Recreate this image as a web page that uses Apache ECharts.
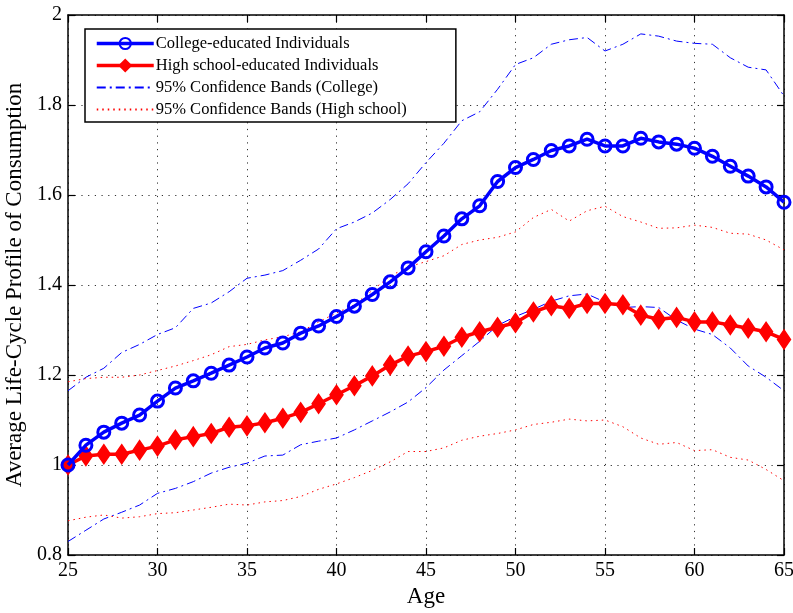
<!DOCTYPE html>
<html>
<head>
<meta charset="utf-8">
<script src="https://cdn.jsdelivr.net/npm/echarts@6/dist/echarts.min.js"></script>
<style>
  html, body { margin: 0; padding: 0; background: #fff; }
  #chart { width: 793px; height: 613px; }
</style>
</head>
<body>
<div id="chart"></div>
<script>
// ages 25..65
const ages = []
for (let a = 25; a <= 65; a++) ages.push(a)

const college = [
  1.000, 1.044, 1.073, 1.093, 1.111, 1.142, 1.171, 1.187, 1.204, 1.222,
  1.240, 1.260, 1.271, 1.293, 1.309, 1.330, 1.353, 1.379, 1.407, 1.438,
  1.474, 1.509, 1.547, 1.576, 1.630, 1.661, 1.679, 1.699, 1.709, 1.724,
  1.709, 1.709, 1.726, 1.718, 1.713, 1.704, 1.686, 1.664, 1.642, 1.618,
  1.584
]
const highSchool = [
  1.000, 1.020, 1.024, 1.024, 1.033, 1.042, 1.056, 1.063, 1.070, 1.084,
  1.087, 1.094, 1.104, 1.117, 1.136, 1.156, 1.176, 1.198, 1.222, 1.242,
  1.252, 1.264, 1.284, 1.296, 1.306, 1.316, 1.340, 1.354, 1.348, 1.359,
  1.359, 1.356, 1.333, 1.324, 1.328, 1.318, 1.318, 1.311, 1.304, 1.296,
  1.279
]
const collegeUpper = [
  1.165, 1.195, 1.215, 1.250, 1.268, 1.290, 1.305, 1.348, 1.360, 1.385,
  1.415, 1.422, 1.432, 1.455, 1.480, 1.525, 1.540, 1.560, 1.590, 1.625,
  1.672, 1.715, 1.765, 1.785, 1.835, 1.890, 1.905, 1.935, 1.945, 1.950,
  1.920, 1.935, 1.958, 1.953, 1.942, 1.937, 1.935, 1.905, 1.884, 1.878,
  1.820
]
const collegeLower = [
  0.830, 0.855, 0.880, 0.895, 0.911, 0.937, 0.948, 0.963, 0.982, 0.995,
  1.004, 1.020, 1.022, 1.045, 1.053, 1.060, 1.078, 1.098, 1.118, 1.140,
  1.172, 1.211, 1.243, 1.275, 1.310, 1.330, 1.346, 1.364, 1.376, 1.380,
  1.362, 1.350, 1.352, 1.350, 1.322, 1.302, 1.290, 1.260, 1.220, 1.195,
  1.165
]
const hsUpper = [
  1.185, 1.192, 1.195, 1.195, 1.200, 1.210, 1.220, 1.232, 1.245, 1.263,
  1.268, 1.278, 1.285, 1.296, 1.318, 1.338, 1.356, 1.388, 1.420, 1.440,
  1.452, 1.465, 1.490, 1.500, 1.506, 1.518, 1.550, 1.568, 1.542, 1.565,
  1.575, 1.552, 1.540, 1.526, 1.527, 1.533, 1.528, 1.515, 1.513, 1.500,
  1.478
]
const hsLower = [
  0.876, 0.884, 0.889, 0.882, 0.885, 0.892, 0.894, 0.900, 0.906, 0.913,
  0.911, 0.918, 0.921, 0.930, 0.946, 0.958, 0.972, 0.988, 1.007, 1.030,
  1.030, 1.038, 1.055, 1.064, 1.070, 1.078, 1.090, 1.095, 1.102, 1.098,
  1.100, 1.085, 1.060, 1.046, 1.050, 1.032, 1.034, 1.017, 1.011, 0.990,
  0.965
]

const seriesNames = [
  'College-educated Individuals',
  'High school-educated Individuals',
  '95% Confidence Bands (College)',
  '95% Confidence Bands (High school)'
]

const FONT = '"Liberation Serif", "DejaVu Serif", serif'
const BLUE = '#0000ff'
const RED = '#ff0000'

const pairs = vals => ages.map((a, i) => [a, vals[i]])

const chart = echarts.init(document.getElementById('chart'))

const boxAxisLine = { show: true, lineStyle: { color: '#000', width: 1.5 } }
const tick = { show: true, inside: true, length: 7, lineStyle: { color: '#000', width: 1.2 } }
const grid = { show: true, lineStyle: { color: '#333', width: 1, type: [1.2, 5.5] } }

chart.setOption({
  animation: false,
  textStyle: { fontFamily: FONT },
  grid: { left: 68, right: 9, top: 15, bottom: 58, outerBoundsMode: 'none' },
  legend: {
    data: [
      { name: seriesNames[0], lineStyle: { width: 3.5 } },
      { name: seriesNames[1], lineStyle: { width: 3.5 } },
      { name: seriesNames[2] },
      { name: seriesNames[3] }
    ],
    orient: 'vertical',
    left: 85,
    top: 29,
    padding: [6, 49, 4, 10],
    itemWidth: 57,
    itemHeight: 14,
    itemGap: 5,
    backgroundColor: '#fff',
    borderColor: '#000',
    borderWidth: 1.5,
    borderRadius: 0,
    textStyle: { fontFamily: FONT, fontSize: 16.5, color: '#000', padding: [0, 0, 0, -3] }
  },
  xAxis: [
    {
      type: 'value', min: 25, max: 65, interval: 5,
      name: 'Age', nameLocation: 'middle', nameGap: 29,
      nameTextStyle: { fontFamily: FONT, fontSize: 23, color: '#000' },
      axisLine: boxAxisLine, axisTick: tick, splitLine: grid,
      axisLabel: { color: '#000', fontFamily: FONT, fontSize: 20, margin: 6 }
    },
    {
      type: 'value', min: 25, max: 65, interval: 5, position: 'top',
      axisLine: boxAxisLine, axisTick: tick, splitLine: { show: false },
      axisLabel: { show: false }
    }
  ],
  yAxis: [
    {
      type: 'value', min: 0.8, max: 2, interval: 0.2,
      name: 'Average Life-Cycle Profile of Consumption', nameLocation: 'middle', nameGap: 40,
      nameTextStyle: { fontFamily: FONT, fontSize: 23, color: '#000' },
      axisLine: boxAxisLine, axisTick: tick, splitLine: grid,
      axisLabel: {
        color: '#000', fontFamily: FONT, fontSize: 20, margin: 6,
        formatter: v => String(+v.toFixed(1))
      }
    },
    {
      type: 'value', min: 0.8, max: 2, interval: 0.2, position: 'right',
      axisLine: boxAxisLine, axisTick: tick, splitLine: { show: false },
      axisLabel: { show: false }
    }
  ],
  series: [
    {
      name: seriesNames[2], type: 'line', data: pairs(collegeUpper),
      showSymbol: false, symbol: 'none', z: 2,
      lineStyle: { color: BLUE, width: 1, type: [9, 4, 2, 4] },
      itemStyle: { color: BLUE, opacity: 0 }
    },
    {
      name: seriesNames[2], type: 'line', data: pairs(collegeLower),
      showSymbol: false, symbol: 'none', z: 2,
      lineStyle: { color: BLUE, width: 1, type: [9, 4, 2, 4] },
      itemStyle: { color: BLUE, opacity: 0 }
    },
    {
      name: seriesNames[3], type: 'line', data: pairs(hsUpper),
      showSymbol: false, symbol: 'none', z: 2,
      lineStyle: { color: RED, width: 1, type: [1.5, 4] },
      itemStyle: { color: RED, opacity: 0 }
    },
    {
      name: seriesNames[3], type: 'line', data: pairs(hsLower),
      showSymbol: false, symbol: 'none', z: 2,
      lineStyle: { color: RED, width: 1, type: [1.5, 4] },
      itemStyle: { color: RED, opacity: 0 }
    },
    {
      name: seriesNames[1], type: 'line', data: pairs(highSchool),
      symbol: 'diamond', symbolSize: [13, 19], z: 4,
      lineStyle: { color: RED, width: 3.5 },
      itemStyle: { color: RED, borderColor: RED, borderWidth: 1.5 }
    },
    {
      name: seriesNames[0], type: 'line', data: pairs(college),
      symbol: 'circle', symbolSize: 12, z: 5,
      lineStyle: { color: BLUE, width: 3.5 },
      itemStyle: { color: 'rgba(255,255,255,0)', borderColor: BLUE, borderWidth: 3 }
    }
  ]
})
</script>
</body>
</html>
